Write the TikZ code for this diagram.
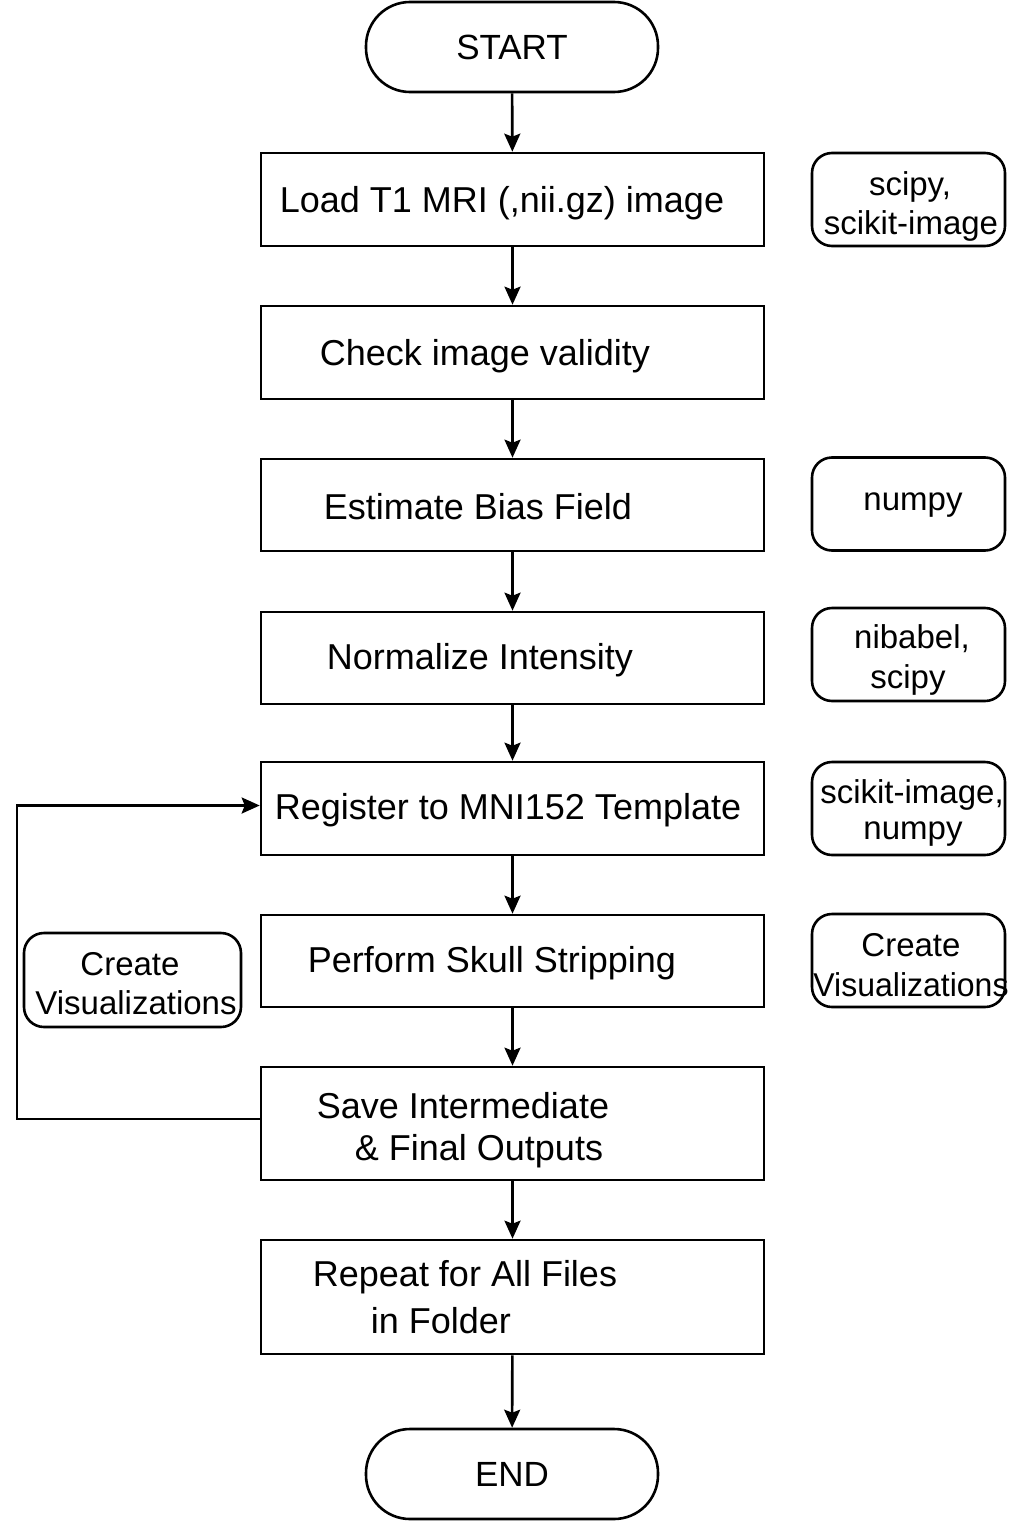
\documentclass[tikz,border=0pt]{standalone}
\usepackage{fontspec}
\setmainfont{Liberation Sans}
\usetikzlibrary{arrows.meta}
\begin{document}
\begin{tikzpicture}[x=1pt,y=-1pt,
  line width=2.6pt,
  arr/.style={-{Stealth[length=18pt,width=16pt,inset=3pt]}},
  term/.style={draw, rounded corners=44pt, minimum width=292pt, minimum height=90pt, inner sep=0pt, font=\fontsize{35}{40}\selectfont},
  mainbox/.style={draw, minimum width=503pt, inner sep=0pt},
  sidebox/.style={draw, rounded corners=20pt, minimum width=193pt, minimum height=93pt, inner sep=0pt, align=center, font=\fontsize{33}{39}\selectfont},
  mtext/.style={inner sep=0pt, font=\fontsize{36}{44}\selectfont},
  stext/.style={inner sep=0pt, font=\fontsize{33}{39}\selectfont}
]
\useasboundingbox (0,0) rectangle (1024,1536);
\fill[white] (0,0) rectangle (1024,1536);

% terminals
\node[term] (start) at (512,47) {START};
\node[term] (endn) at (512,1474) {END};

% main boxes
\node[mainbox, minimum height=93pt] (b1) at (512.5,199.5) {};
\node[mainbox, minimum height=93pt] (b2) at (512.5,352.5) {};
\node[mainbox, minimum height=92pt] (b3) at (512.5,505) {};
\node[mainbox, minimum height=92pt] (b4) at (512.5,658) {};
\node[mainbox, minimum height=93pt] (b5) at (512.5,808.5) {};
\node[mainbox, minimum height=92pt] (b6) at (512.5,961) {};
\node[mainbox, minimum height=113pt] (b7) at (512.5,1123.5) {};
\node[mainbox, minimum height=114pt] (b8) at (512.5,1297) {};

% main texts
\node[mtext] (t1) at (502,203) {Load T1 MRI (,nii.gz) image};
\node[mtext] (t2) at (485,356) {Check image validity};
\node[mtext] (t3) at (478,507) {Estimate Bias Field};
\node[mtext] (t4) at (480,660) {Normalize Intensity};
\node[mtext] (t5) at (508,810) {Register to MNI152 Template};
\node[mtext] (t6) at (492,963) {Perform Skull Stripping};
\node[mtext] (t7a) at (463,1106) {Save Intermediate};
\node[mtext] (t7b) at (479,1151) {\& Final Outputs};
\node[mtext] (t8a) at (465,1277) {Repeat for All Files};
\node[mtext] (t8b) at (441,1321) {in Folder};

% side boxes
\node[sidebox] (s1) at (908.5,199.5) {};
\node[stext] (s1a) at (910,187) {scipy,};
\node[stext] (s1b) at (911,226) {scikit-image};
\node[sidebox] (s2) at (908.5,504) {};
\node[stext] (s2a) at (913,505) {numpy};
\node[sidebox] (s3) at (908.5,654.5) {};
\node[stext] (s3a) at (912,639) {nibabel,};
\node[stext] (s3b) at (908,680) {scipy};
\node[sidebox] (s4) at (908.5,808.5) {};
\node[stext] (s4a) at (912,795) {scikit-image,};
\node[stext] (s4b) at (913,834) {numpy};
\node[sidebox] (s5) at (908.5,960.5) {};
\node[stext] (s5a) at (911,945) {Create};
\node[stext, xscale=0.97] (s5b) at (911,985) {Visualizations};
\node[sidebox, minimum width=217pt, minimum height=94pt] (lv) at (132.5,980) {};
\node[stext] (lva) at (130,964) {Create};
\node[stext] (lvb) at (136,1003) {Visualizations};

% arrows
\draw[arr] (start) -- (b1);
\draw[arr] (b1) -- (b2);
\draw[arr] (b2) -- (b3);
\draw[arr] (b3) -- (b4);
\draw[arr] (b4) -- (b5);
\draw[arr] (b5) -- (b6);
\draw[arr] (b6) -- (b7);
\draw[arr] (b7) -- (b8);
\draw[arr] (b8) -- (endn);

% loop
\coordinate (la) at (17,1119);
\coordinate (lb) at (17,805.5);
\draw[arr] ([yshift=4.5pt]b7.west) -- (la) -- (lb) -- ([yshift=3pt]b5.west);
\end{tikzpicture}
\end{document}
